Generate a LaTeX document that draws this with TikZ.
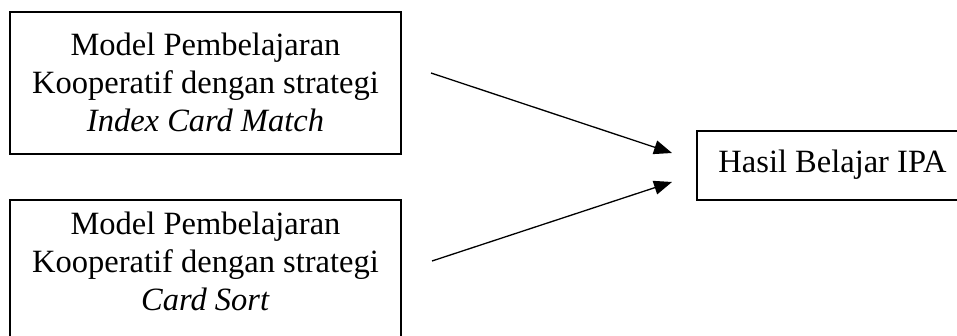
\documentclass[tikz,border=0pt]{standalone}
\usepackage{fontspec}
\setmainfont{Liberation Serif}
\usetikzlibrary{arrows.meta}
\tikzset{
  boxframe/.style={draw=black, line width=2.4pt, rectangle, inner sep=0pt},
  lbl/.style={align=center, inner sep=0pt, font=\fontsize{32.5}{38}\selectfont},
  conn/.style={line width=1.3pt, -{Triangle[length=18pt,width=14pt]}}
}
\begin{document}
\begin{tikzpicture}[x=1pt,y=-1pt]
\useasboundingbox (0,0) rectangle (957,336);
% boxes
\node[boxframe, minimum width=391pt, minimum height=142pt] (b1) at (205.5,83) {};
\node[boxframe, minimum width=391pt, minimum height=160pt] (b2) at (205.5,280) {};
\node[boxframe, minimum width=271pt, minimum height=69pt] (b3) at (832.5,165.5) {};
% labels
\node[lbl] (t1) at (205.5,82) {Model Pembelajaran\\Kooperatif dengan strategi\\\textit{Index Card Match}};
\node[lbl] (t2) at (205.5,261) {Model Pembelajaran\\Kooperatif dengan strategi\\\textit{Card Sort}};
\node[lbl] (t3) at (832.5,165) {Hasil Belajar IPA};
% connectors
\coordinate (s1) at (431,73);
\coordinate (e1) at (672,153);
\coordinate (s2) at (432,261);
\coordinate (e2) at (672,182);
\draw[conn] (s1) -- (e1);
\draw[conn] (s2) -- (e2);
\end{tikzpicture}
\end{document}
